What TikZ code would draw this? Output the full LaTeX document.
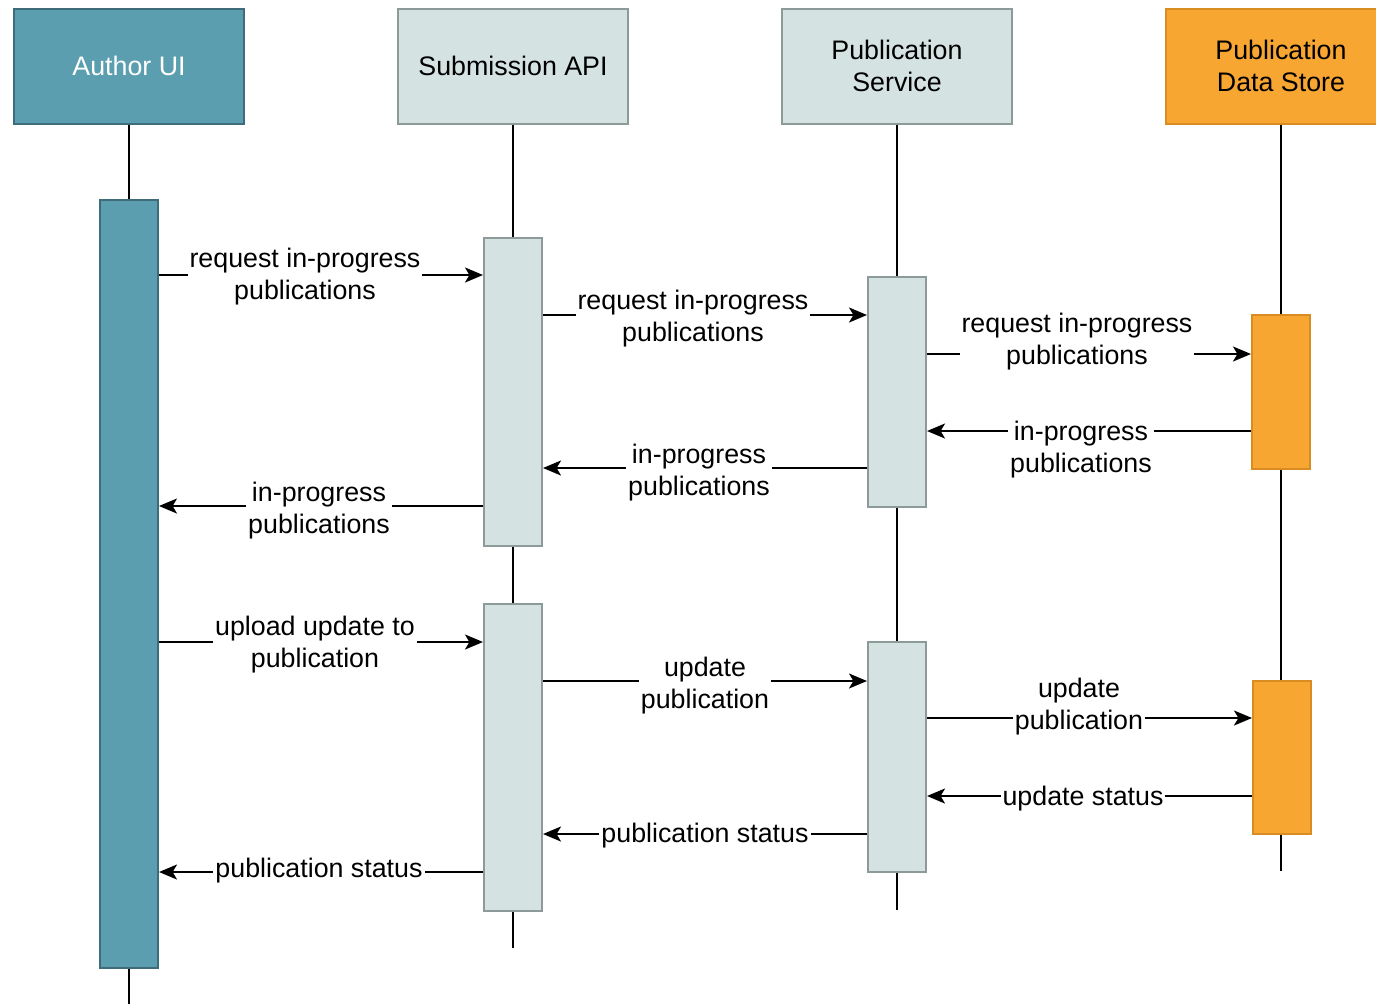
\documentclass[tikz,border=0pt]{standalone}
\usepackage{fontspec}
\setmainfont{Liberation Sans}
\usetikzlibrary{arrows.meta}
\definecolor{tealF}{RGB}{90,158,176}
\definecolor{tealD}{RGB}{62,108,122}
\definecolor{lightF}{RGB}{212,227,226}
\definecolor{lightD}{RGB}{140,154,152}
\definecolor{orangeF}{RGB}{248,166,50}
\definecolor{orangeD}{RGB}{216,140,34}
\newcommand\lblfont{\fontsize{13.4}{16}\selectfont}
\begin{document}
\begin{tikzpicture}[x=0.5pt,y=-0.5pt,
  hdr/.style={line width=1pt, minimum width=115pt, minimum height=57.5pt, inner sep=0pt, align=center, font=\lblfont},
  act/.style={line width=1pt, minimum width=29pt, inner sep=0pt},
  tealbox/.style={fill=tealF, draw=tealD},
  lightbox/.style={fill=lightF, draw=lightD},
  orangebox/.style={fill=orangeF, draw=orangeD},
  life/.style={line width=1pt, black},
  msg/.style={line width=1pt, black, -{Stealth[length=9pt,width=7.5pt,inset=2.2pt]}},
  lbl/.style={fill=white, inner sep=1pt, align=center, font=\lblfont, text=black}]
\useasboundingbox (0,0) rectangle (1376,1003);
\clip (0,0) rectangle (1376,1003);
\fill[white] (0,0) rectangle (1376,1003);

% headers
\node[hdr, tealbox, text=white] (h1) at (129,66) {Author UI};
\node[hdr, lightbox] (h2) at (513,66) {Submission API};
\node[hdr, lightbox] (h3) at (897,66) {Publication\\Service};
\node[hdr, orangebox] (h4) at (1281,66) {Publication\\Data Store};

% lifeline ends
\coordinate (e1) at (129,1010);
\coordinate (e2) at (513,948);
\coordinate (e3) at (897,910);
\coordinate (e4) at (1281,871);

\draw[life] (h1.south) -- (e1);
\draw[life] (h2.south) -- (e2);
\draw[life] (h3.south) -- (e3);
\draw[life] (h4.south) -- (e4);

% activations
\node[act, tealbox, minimum height=384pt] (au) at (129,584) {};
\node[act, lightbox, minimum height=154pt] (sa1) at (513,392) {};
\node[act, lightbox, minimum height=153.5pt] (sa2) at (513,757.5) {};
\node[act, lightbox, minimum height=115pt] (ps1) at (897,392) {};
\node[act, lightbox, minimum height=115pt] (ps2) at (897,757) {};
\node[act, orangebox, minimum height=77pt] (ds1) at (1281,392) {};
\node[act, orangebox, minimum height=76.5pt] (ds2) at (1282,757.5) {};

% messages
\draw[msg] (au.east |- 0,275) -- (sa1.west |- 0,275);
\draw[msg] (sa1.east |- 0,315) -- (ps1.west |- 0,315);
\draw[msg] (ps1.east |- 0,354) -- (ds1.west |- 0,354);
\draw[msg] (ds1.west |- 0,431) -- (ps1.east |- 0,431);
\draw[msg] (ps1.west |- 0,468) -- (sa1.east |- 0,468);
\draw[msg] (sa1.west |- 0,506) -- (au.east |- 0,506);
\draw[msg] (au.east |- 0,642) -- (sa2.west |- 0,642);
\draw[msg] (sa2.east |- 0,681) -- (ps2.west |- 0,681);
\draw[msg] (ps2.east |- 0,718) -- (ds2.west |- 0,718);
\draw[msg] (ds2.west |- 0,796) -- (ps2.east |- 0,796);
\draw[msg] (ps2.west |- 0,834) -- (sa2.east |- 0,834);
\draw[msg] (sa2.west |- 0,872) -- (au.east |- 0,872);

% labels
\node[lbl] (l1) at (305,277) {request in-progress\\publications};
\node[lbl] (l2) at (693,319) {request in-progress\\publications};
\node[lbl] (l3) at (1077,342) {request in-progress\\publications};
\node[lbl] (l4) at (1081,450) {in-progress\\publications};
\node[lbl] (l5) at (699,473) {in-progress\\publications};
\node[lbl] (l6) at (319,511) {in-progress\\publications};
\node[lbl] (l7) at (315,645) {upload update to\\publication};
\node[lbl] (l8) at (705,686) {update\\publication};
\node[lbl] (l9) at (1079,707) {update\\publication};
\node[lbl] (l10) at (1083,799) {update status};
\node[lbl] (l11) at (705,836) {publication status};
\node[lbl] (l12) at (319,871) {publication status};
\end{tikzpicture}
\end{document}
